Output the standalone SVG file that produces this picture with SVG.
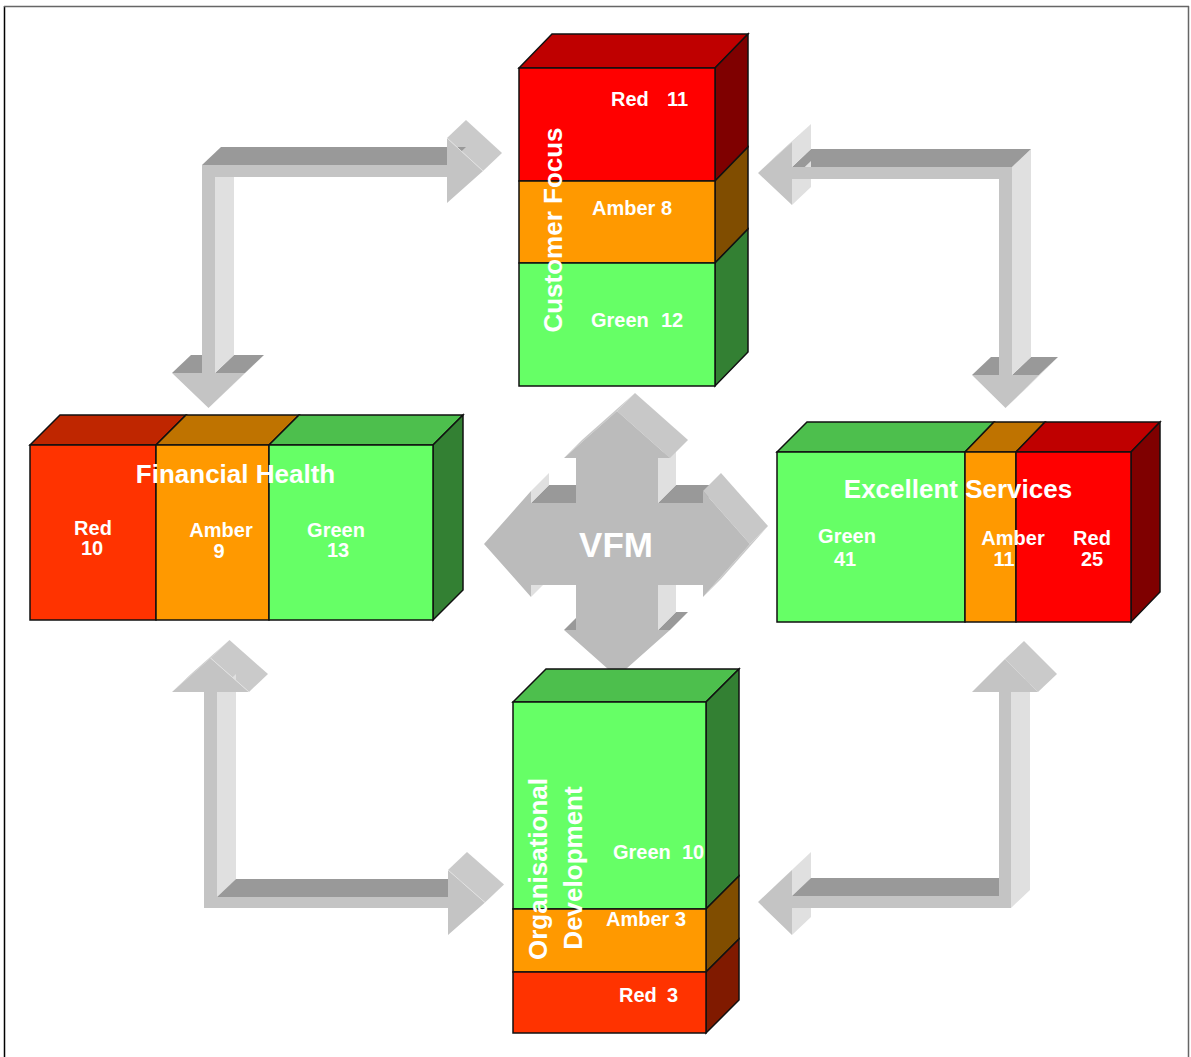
<svg xmlns="http://www.w3.org/2000/svg" width="1191" height="1057" viewBox="0 0 1191 1057">
<style>
.bx{stroke:#111;stroke-width:1.5;stroke-linejoin:miter}
.rF{fill:#FF0000}.rT{fill:#BF0000}.rS{fill:#7F0000}
.oF{fill:#FF3300}.oT{fill:#BF2600}.oS{fill:#801A00}
.aF{fill:#FF9900}.aT{fill:#BF7300}.aS{fill:#804D00}
.gF{fill:#66FF66}.gT{fill:#4DBF4D}.gS{fill:#338033}
.lab{font-family:"Liberation Sans",Arial,sans-serif;font-weight:bold;fill:#fff;font-size:20px}
.ttl{font-family:"Liberation Sans",Arial,sans-serif;font-weight:bold;fill:#fff;font-size:26px}
.fr{fill:#C4C4C4}.dk{fill:#999999}.lt{fill:#E0E0E0}.dg{fill:#CACACA}
.sep{stroke:#E2E2E2;stroke-width:1;fill:none}
.cf{fill:#BBBBBB}.cd{fill:#C8C8C8}
</style>
<rect x="0" y="0" width="1191" height="1057" fill="#fff"/>
<line x1="4.5" y1="6" x2="4.5" y2="1057" stroke="#000" stroke-width="1.5"/>
<line x1="4" y1="6.5" x2="1189" y2="6.5" stroke="#666" stroke-width="1.5"/>
<line x1="1188.5" y1="6" x2="1188.5" y2="1057" stroke="#666" stroke-width="1.5"/>

<g id="connectors">
 <g id="arrow-tl">
  <polygon class="dk" points="172,373 202,373 221,355 191,355"/>
  <polygon class="dg" points="245,373 208.5,408 227.5,390 264,355"/>
  <polygon class="dk" points="215,373 245,373 264,355 234,355"/>
  <polygon class="lt" points="215,177 215,373 234,355 234,159"/>
  <polygon class="dg" points="447,138 483,171 502,153 466,120"/>
  <polygon class="dk" points="202,165 447,165 466,147 221,147"/>
  <polygon class="fr" points="202,165 447,165 447,138 483,171 447,203 447,177 215,177 215,373 245,373 208.5,408 172,373 202,373"/>
  <line class="sep" x1="447" y1="138" x2="483" y2="171"/>
 </g>
 <g id="arrow-tr">
  <polygon class="dk" points="972,375 999,375 1018,357 991,357"/>
  <polygon class="dk" points="1012,375 1039,375 1058,357 1031,357"/>
  <polygon class="dg" points="1039,375 1005.5,408 1024.5,390 1058,357"/>
  <polygon class="lt" points="1012,167 1012,375 1031,357 1031,149"/>
  <polygon class="dk" points="792,167 1012,167 1031,149 811,149"/>
  <polygon class="lt" points="792,179 792,205 811,187 811,161"/>
  <polygon class="lt" points="792,142 792,167 811,149 811,124"/>
  <polygon class="dg" points="758,173 792,142 811,124 777,155"/>
  <polygon class="fr" points="792,167 1012,167 1012,375 1039,375 1005.5,408 972,375 999,375 999,179 792,179 792,205 758,173 792,142"/>
 </g>
 <g id="arrow-bl">
  <polygon class="dg" points="172,692 210.5,658 229.5,640 191,674"/>
  <polygon class="dg" points="210.5,658 249,692 268,674 229.5,640"/>
  <polygon class="lt" points="217,692 217,897 236,879 236,674"/>
  <polygon class="dk" points="217,897 448,897 467,879 236,879"/>
  <polygon class="dg" points="448,870 485,902.5 504,884.5 467,852"/>
  <polygon class="fr" points="210.5,658 249,692 217,692 217,897 448,897 448,870 485,902.5 448,935 448,908 204,908 204,692 172,692"/>
  <line class="sep" x1="210.5" y1="658" x2="249" y2="692"/>
  <line class="sep" x1="448" y1="870" x2="485" y2="902.5"/>
 </g>
 <g id="arrow-br">
  <polygon class="dg" points="758,902 792,870 811,852 777,884"/>
  <polygon class="lt" points="792,870 792,896 811,878 811,852"/>
  <polygon class="lt" points="792,908 792,935 811,917 811,890"/>
  <polygon class="dk" points="792,896 999,896 1018,878 811,878"/>
  <polygon class="lt" points="1011,692 1011,908 1030,890 1030,674"/>
  <polygon class="dg" points="1005,659 1038,692 1057,674 1024,641"/>
  <polygon class="fr" points="1005,659 1038,692 1011,692 1011,908 792,908 792,935 758,902 792,870 792,896 999,896 999,692 972,692"/>
 </g>
</g>

<g id="vfm">
 <polygon class="dk" points="658,503 703,503 721,485 676,485"/>
 <polygon class="dk" points="658,630 670,630 688,612 676,612"/>
 <polygon class="dk" points="564,630 576,630 594,612 582,612"/>
 <polygon class="dk" points="531,503 576,503 594,485 549,485"/>
 <polygon class="lt" points="658,458 658,503 676,485 676,440"/>
 <polygon class="lt" points="658,585 658,630 676,612 676,567"/>
 <polygon class="lt" points="531,585 531,597 549,579 549,567"/>
 <polygon class="lt" points="531,491 531,503 549,485 549,473"/>
 <polygon class="cd" points="564,458 617,411 635,393 582,440"/>
 <polygon class="cd" points="617,411 670,458 688,440 635,393"/>
 <polygon class="cd" points="703,491 750,544 768,526 721,473"/>
 <polygon class="cd" points="750,544 703,597 721,579 768,526"/>
 <polygon class="cf" points="576,503 576,458 564,458 617,411 670,458 658,458 658,503 703,503 703,491 750,544 703,597 703,585 658,585 658,630 670,630 617,677 564,630 576,630 576,585 531,585 531,597 484,544 531,491 531,503"/>
 <text class="ttl" x="616" y="557" text-anchor="middle" style="font-size:35px">VFM</text>
</g>

<g id="customer-focus">
 <polygon class="bx rT" points="519,68 552,34 748,34 715,68"/>
 <polygon class="bx rS" points="715,68 748,34 748,147 715,181"/>
 <polygon class="bx aS" points="715,181 748,147 748,229 715,263"/>
 <polygon class="bx gS" points="715,263 748,229 748,352 715,386"/>
 <rect class="bx rF" x="519" y="68" width="196" height="113"/>
 <rect class="bx aF" x="519" y="181" width="196" height="82"/>
 <rect class="bx gF" x="519" y="263" width="196" height="123"/>
 <text class="lab" x="611" y="106">Red</text>
 <text class="lab" x="667" y="106">11</text>
 <text class="lab" x="592" y="215">Amber 8</text>
 <text class="lab" x="591" y="327">Green</text>
 <text class="lab" x="661" y="327">12</text>
 <text class="ttl" transform="translate(562,230) rotate(-90)" text-anchor="middle">Customer Focus</text>
</g>

<g id="financial-health">
 <polygon class="bx oT" points="30,445 60,415 186,415 156,445"/>
 <polygon class="bx aT" points="156,445 186,415 299,415 269,445"/>
 <polygon class="bx gT" points="269,445 299,415 463,415 433,445"/>
 <polygon class="bx gS" points="433,445 463,415 463,590 433,620"/>
 <rect class="bx oF" x="30" y="445" width="126" height="175"/>
 <rect class="bx aF" x="156" y="445" width="113" height="175"/>
 <rect class="bx gF" x="269" y="445" width="164" height="175"/>
 <text class="ttl" x="235.5" y="483" text-anchor="middle">Financial Health</text>
 <text class="lab" x="93" y="535" text-anchor="middle">Red</text>
 <text class="lab" x="92" y="555" text-anchor="middle">10</text>
 <text class="lab" x="221" y="537" text-anchor="middle">Amber</text>
 <text class="lab" x="219" y="558" text-anchor="middle">9</text>
 <text class="lab" x="336" y="537" text-anchor="middle">Green</text>
 <text class="lab" x="338" y="557" text-anchor="middle">13</text>
</g>

<g id="excellent-services">
 <polygon class="bx gT" points="777,452 807,422 994,422 965,452"/>
 <polygon class="bx aT" points="965,452 994,422 1045,422 1016,452"/>
 <polygon class="bx rT" points="1016,452 1045,422 1160,422 1131,452"/>
 <polygon class="bx rS" points="1131,452 1160,422 1160,592 1131,622"/>
 <rect class="bx gF" x="777" y="452" width="188" height="170"/>
 <rect class="bx aF" x="965" y="452" width="51" height="170"/>
 <rect class="bx rF" x="1016" y="452" width="115" height="170"/>
 <text class="ttl" x="958" y="498" text-anchor="middle">Excellent Services</text>
 <text class="lab" x="847" y="543" text-anchor="middle">Green</text>
 <text class="lab" x="845" y="566" text-anchor="middle">41</text>
 <text class="lab" x="1013" y="545" text-anchor="middle">Amber</text>
 <text class="lab" x="1004" y="566" text-anchor="middle">11</text>
 <text class="lab" x="1092" y="545" text-anchor="middle">Red</text>
 <text class="lab" x="1092" y="566" text-anchor="middle">25</text>
</g>

<g id="organisational-development">
 <polygon class="bx gT" points="513,702 546,669 739,669 706,702"/>
 <polygon class="bx gS" points="706,702 739,669 739,876 706,909"/>
 <polygon class="bx aS" points="706,909 739,876 739,939 706,972"/>
 <polygon class="bx oS" points="706,972 739,939 739,1000 706,1033"/>
 <rect class="bx gF" x="513" y="702" width="193" height="207"/>
 <rect class="bx aF" x="513" y="909" width="193" height="63"/>
 <rect class="bx oF" x="513" y="972" width="193" height="61"/>
 <text class="lab" x="613" y="859">Green</text>
 <text class="lab" x="682" y="859">10</text>
 <text class="lab" x="606" y="926">Amber 3</text>
 <text class="lab" x="619" y="1002">Red</text>
 <text class="lab" x="667" y="1002">3</text>
 <text class="ttl" transform="translate(547,869) rotate(-90)" text-anchor="middle">Organisational</text>
 <text class="ttl" transform="translate(582,868) rotate(-90)" text-anchor="middle">Development</text>
</g>
</svg>
